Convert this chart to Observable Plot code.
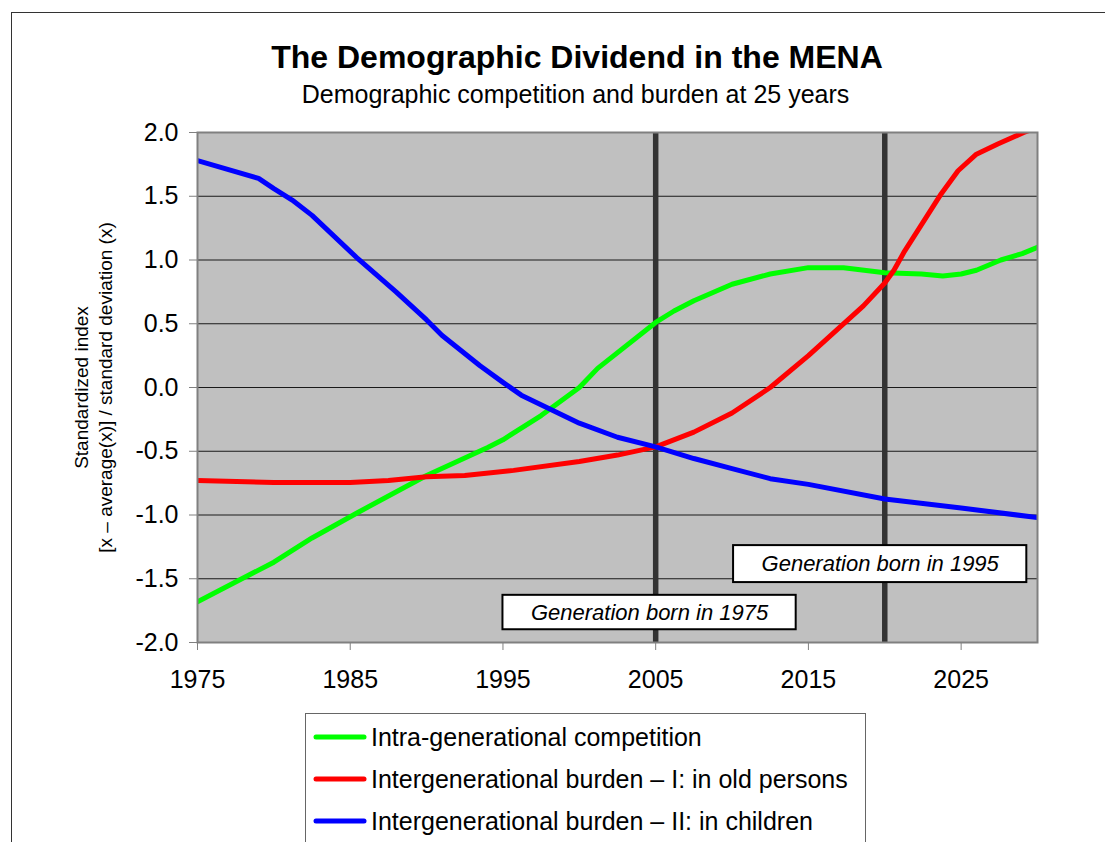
<!DOCTYPE html>
<html>
<head>
<meta charset="utf-8">
<script src="https://cdn.jsdelivr.net/npm/d3@7"></script>
<script src="https://cdn.jsdelivr.net/npm/@observablehq/plot@0.6"></script>
<style>
html,body{margin:0;padding:0;background:#fff;overflow:hidden;width:1105px;height:842px;}
body{position:relative;font-family:"Liberation Sans",Arial,sans-serif;color:#000;}
#frame{position:absolute;left:11px;top:12px;width:1200px;height:1000px;border:1.5px solid #333;box-sizing:border-box;}
#title{position:absolute;left:0;width:1154px;top:41px;text-align:center;font-weight:bold;font-size:32px;line-height:32px;}
#subtitle{position:absolute;left:0;width:1151px;top:82px;text-align:center;font-size:25px;line-height:25px;}
#chart{position:absolute;left:0;top:110px;}
#legend{position:absolute;left:305px;top:713px;width:561px;height:200px;border:1px solid #666;box-sizing:border-box;background:#fff;}
.row{position:absolute;left:0;height:30px;width:560px;font-size:25px;line-height:30px;}
.row svg{position:absolute;left:6px;top:11px;}
.row span{position:absolute;left:65px;top:0;white-space:nowrap;}
</style>
</head>
<body>
<div id="frame"></div>
<div id="title">The Demographic Dividend in the MENA</div>
<div id="subtitle">Demographic competition and burden at 25 years</div>
<div id="chart"></div>
<div id="legend"></div>
<script>
// ---- data ----
const seriesNames = [
  "Intra-generational competition",
  "Intergenerational burden \u2013 I: in old persons",
  "Intergenerational burden \u2013 II: in children"
];
const seriesColors = ["#00ff00", "#ff0000", "#0000ff"];

const competitionYears = [1975, 1980, 1982.5, 1985.5, 1990, 1994, 1995, 1997.5, 2000, 2001.2, 2005, 2006.2, 2007.5, 2010, 2012.5, 2015, 2017.3, 2020, 2022.4, 2023.8, 2025, 2026, 2027.6, 2029, 2030];
const competitionIdx   = [-1.68, -1.37, -1.18, -0.98, -0.69, -0.47, -0.41, -0.22, 0.0, 0.15, 0.51, 0.60, 0.68, 0.81, 0.89, 0.94, 0.94, 0.90, 0.89, 0.875, 0.89, 0.92, 1.0, 1.05, 1.10];

const oldYears = [1975, 1980, 1985, 1987.5, 1990, 1992.5, 1995.7, 2000, 2002.5, 2005, 2007.5, 2010, 2012.5, 2015, 2018.6, 2020, 2020.6, 2021.3, 2023.7, 2024.8, 2026, 2027.4, 2029.1, 2030];
const oldIdx   = [-0.73, -0.745, -0.745, -0.73, -0.70, -0.69, -0.65, -0.58, -0.53, -0.466, -0.35, -0.20, 0.0, 0.25, 0.64, 0.82, 0.92, 1.07, 1.52, 1.70, 1.83, 1.91, 2.0, 2.04];

const childYears = [1975, 1979, 1980, 1981.2, 1982.5, 1985.5, 1988, 1990, 1991, 1993.5, 1995, 1996.2, 1998, 2000, 2002.5, 2005, 2007.5, 2010, 2012.5, 2015, 2020, 2025, 2030];
const childIdx   = [1.78, 1.64, 1.56, 1.47, 1.35, 1.01, 0.75, 0.53, 0.41, 0.17, 0.04, -0.06, -0.165, -0.28, -0.39, -0.466, -0.557, -0.636, -0.715, -0.76, -0.875, -0.945, -1.02];

const xTicks = [1975, 1985, 1995, 2005, 2015, 2025];
const yTicks = [-2.0, -1.5, -1.0, -0.5, 0.0, 0.5, 1.0, 1.5, 2.0];
const cohortYears = [2005, 2020];
const noteLabels = ["Generation born in 1975", "Generation born in 1995"];
const noteX1 = [1995.0, 2010.1];
const noteX2 = [2014.2, 2029.3];
const noteY1 = [-1.63, -1.24];
const noteY2 = [-1.90, -1.53];
const yLabel = "Standardized index\n[x \u2013 average(x)] / standard deviation (x)";

// ---- build tables ----
const rows = [];
[[competitionYears, competitionIdx], [oldYears, oldIdx], [childYears, childIdx]].forEach(([ys, vs], i) => {
  ys.forEach((yr, j) => rows.push({series: seriesNames[i], year: yr, value: vs[j]}));
});
const notes = noteLabels.map((t, i) => ({text: t, x1: noteX1[i], x2: noteX2[i], y1: noteY1[i], y2: noteY2[i]}));

const chart = Plot.plot({
  width: 1105,
  height: 590,
  marginLeft: 197,
  marginRight: 68,
  marginTop: 22,
  marginBottom: 58,
  style: {fontFamily: "'Liberation Sans', Arial, sans-serif", fontSize: "25px", background: "transparent", color: "#000"},
  x: {domain: [1975, 2030]},
  y: {domain: [-2, 2]},
  color: {domain: seriesNames, range: seriesColors},
  marks: [
    Plot.frame({fill: "#c0c0c0"}),
    Plot.gridY(yTicks, {stroke: "#1a1a1a", strokeOpacity: 1, strokeWidth: 1}),
    Plot.ruleX(cohortYears, {stroke: "#333333", strokeWidth: 5.5}),
    Plot.line(rows, {x: "year", y: "value", z: "series", stroke: "series", strokeWidth: 5, strokeLinejoin: "round", clip: true}),
    Plot.rect(notes, {x1: "x1", x2: "x2", y1: "y1", y2: "y2", fill: "white", stroke: "black", strokeWidth: 2}),
    Plot.text(notes, {x: d => (d.x1 + d.x2) / 2, y: d => (d.y1 + d.y2) / 2, text: "text", fontStyle: "italic", fontSize: 22, fill: "black"}),
    Plot.frame({stroke: "#808080", strokeWidth: 2}),
    Plot.axisY({ticks: yTicks, tickFormat: d => d.toFixed(1), tickSize: 8, tickPadding: 11, fontSize: 25, stroke: "#808080", fill: "black", label: null}),
    Plot.axisX({ticks: xTicks, tickFormat: d => String(d), tickSize: 8, tickPadding: 20, fontSize: 25, stroke: "#808080", fill: "black", label: null}),
    Plot.text([yLabel], {frameAnchor: "left", textAnchor: "middle", lineAnchor: "middle", dx: -105, rotate: -90, fontSize: 19, lineHeight: 1.26, fill: "black"})
  ]
});
document.getElementById("chart").appendChild(chart);

// ---- legend ----
const legend = document.getElementById("legend");
seriesNames.forEach((name, i) => {
  const row = document.createElement("div");
  row.className = "row";
  row.style.top = (8 + i * 42) + "px";
  row.innerHTML = `<svg width="56" height="8"><line x1="4" y1="4" x2="52" y2="4" stroke="${seriesColors[i]}" stroke-width="5" stroke-linecap="round"/></svg><span>${name}</span>`;
  legend.appendChild(row);
});
</script>
</body>
</html>
